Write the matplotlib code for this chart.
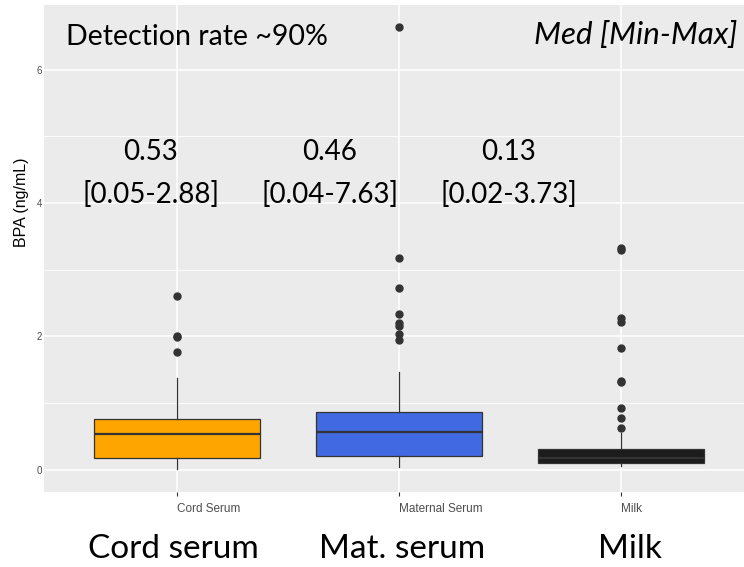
import matplotlib.pyplot as plt

# group data
groups = ["Cord Serum", "Maternal Serum", "Milk"]
colors = ["#FFA500", "#4169E1", "#1C1C1C"]
q1 = [0.18, 0.20, 0.105]
med = [0.54, 0.57, 0.18]
q3 = [0.765, 0.87, 0.315]
whis_lo = [0.01, 0.045, 0.05]
whis_hi = [1.37, 1.46, 0.55]
outliers = [
    [2.60, 2.01, 1.99, 1.77],
    [6.64, 3.17, 2.72, 2.33, 2.20, 2.16, 2.03, 1.94],
    [3.33, 3.30, 2.28, 2.21, 1.83, 1.33, 1.31, 0.93, 0.78, 0.63],
]

# overlay annotations
med_text = ["0.53", "0.46", "0.13"]
range_text = ["[0.05-2.88]", "[0.04-7.63]", "[0.02-3.73]"]
bottom_labels = ["Cord serum", "Mat. serum", "Milk"]

W, H = 744, 567
fig = plt.figure(figsize=(W / 100, H / 100), dpi=100)
# panel runs past the right edge like in the reference
ax = fig.add_axes([44 / W, 1 - 491.5 / H, 710 / W, 486.5 / H])
ax.set_facecolor("#EBEBEB")
for s in ax.spines.values():
    s.set_visible(False)

stats = []
for i, g in enumerate(groups):
    stats.append(dict(label=g, q1=q1[i], med=med[i], q3=q3[i],
                      whislo=whis_lo[i], whishi=whis_hi[i], fliers=outliers[i]))

pos = [1, 2, 3]
bp = ax.bxp(stats, positions=pos, widths=0.75, patch_artist=True, showcaps=False,
            boxprops=dict(edgecolor="#333333", linewidth=0.9),
            medianprops=dict(color="#333333", linewidth=1.6),
            whiskerprops=dict(color="#333333", linewidth=0.9),
            flierprops=dict(marker="o", markerfacecolor="#333333",
                            markeredgecolor="#333333", markersize=5))
for patch, c in zip(bp["boxes"], colors):
    patch.set_facecolor(c)
for b in bp["boxes"] + bp["medians"] + bp["whiskers"] + bp["fliers"]:
    b.set_zorder(3)

ax.set_xlim(0.4, 3.6)
ax.set_ylim(-0.33, 6.97)
ax.set_yticks([0, 2, 4, 6])
ax.set_yticks([1, 3, 5], minor=True)
ax.set_xticks(pos)
ax.set_xticklabels(groups, ha="left")
ax.grid(True, which="major", color="white", linewidth=1.1, zorder=0)
ax.grid(True, which="minor", axis="y", color="white", linewidth=0.6, zorder=0)
ax.set_axisbelow(True)
ax.tick_params(axis="x", which="major", length=3, color="#333333",
               labelcolor="#4D4D4D", labelsize=8.5, pad=5)
ax.tick_params(axis="y", which="major", length=0, labelcolor="#4D4D4D",
               labelsize=7, pad=1.5)
ax.tick_params(axis="y", which="minor", length=0)
for lab in ax.get_xticklabels() + ax.get_yticklabels():
    lab.set_fontfamily("Liberation Sans")
ax.set_ylabel("BPA (ng/mL)", fontsize=11.5, family="Liberation Sans", color="black")
ax.yaxis.set_label_coords((29 - 44) / 710, (491.5 - 202.5) / 486.5)

fnt = "Lato"
fig.text(66 / W, 1 - 45 / H, "Detection rate ~90%", fontsize=20.5, family=fnt,
         ha="left", va="baseline")
fig.text(738 / W, 1 - 44 / H, "Med [Min-Max]", fontsize=22.5, family=fnt,
         style="italic", ha="right", va="baseline")

cx = [151, 330, 509]
for x, m, r in zip(cx, med_text, range_text):
    fig.text(x / W, 1 - 160 / H, m, fontsize=20, family=fnt, ha="center", va="baseline")
    fig.text(x / W, 1 - 203 / H, r, fontsize=20, family=fnt, ha="center", va="baseline")

bx = [173, 402, 630]
for x, t in zip(bx, bottom_labels):
    fig.text(x / W, 1 - 558 / H, t, fontsize=24, family=fnt, ha="center", va="baseline")

fig.savefig("out.png", dpi=100)
